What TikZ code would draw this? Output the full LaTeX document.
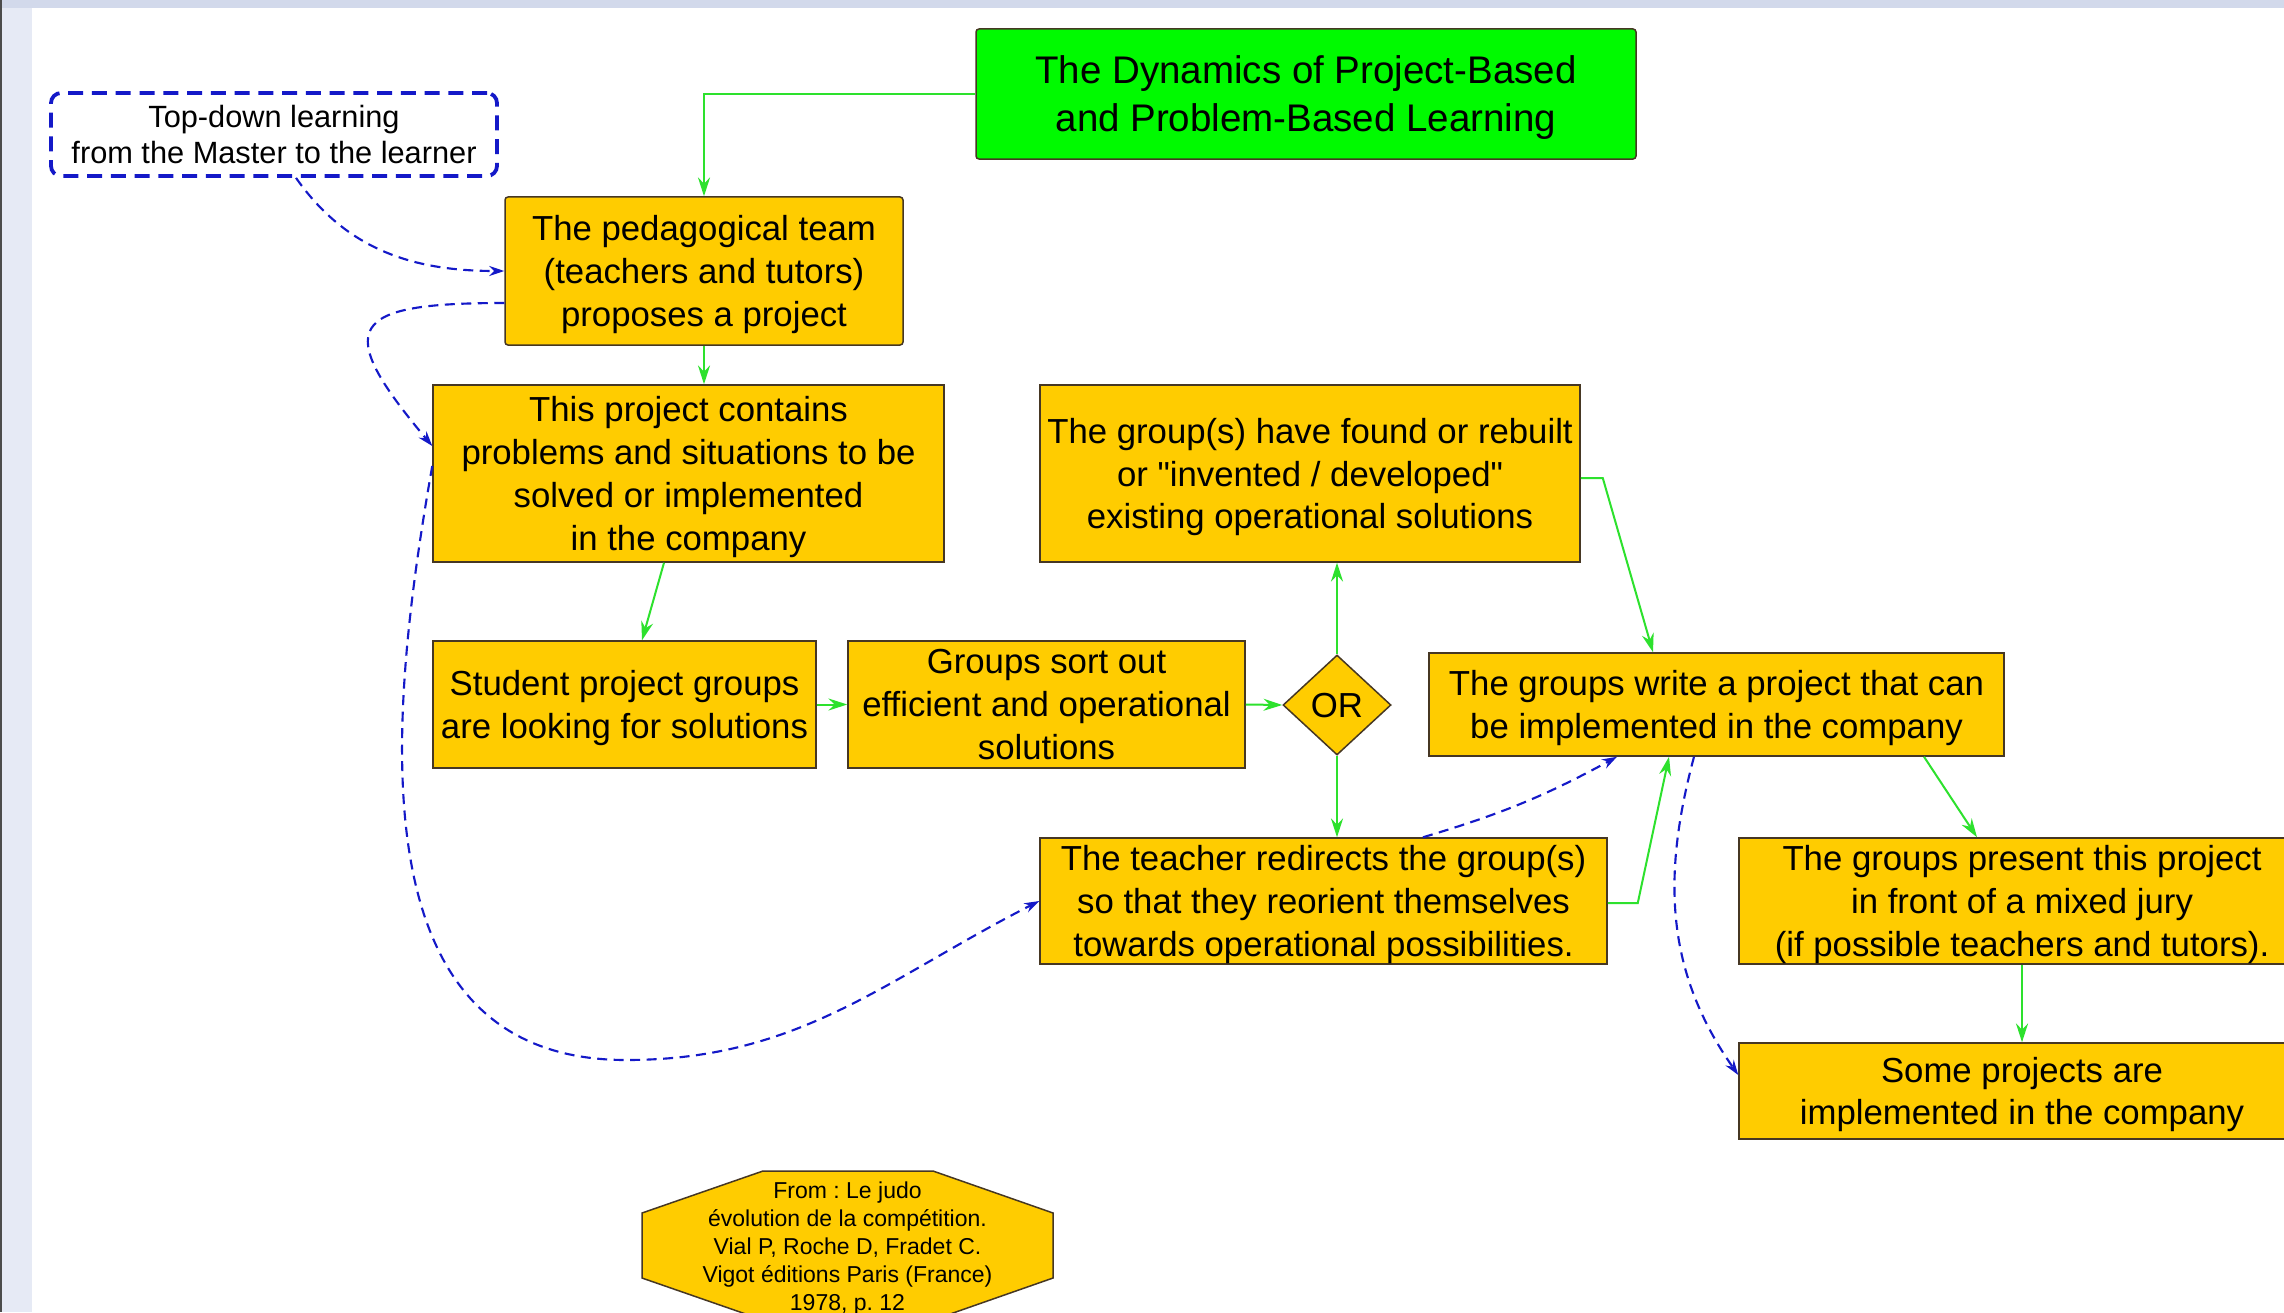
\documentclass[tikz,border=0pt]{standalone}
\usepackage{fontspec}
\setmainfont{Liberation Sans}[Ligatures=TeXOff]
\usepackage{xcolor}
\usetikzlibrary{shapes}
\usetikzlibrary{calc}
\usetikzlibrary{arrows.meta}
\frenchspacing

\definecolor{boxorange}{RGB}{255,204,0}
\definecolor{boxedge}{RGB}{70,55,35}
\definecolor{titlegreen}{RGB}{0,250,0}
\definecolor{linkgreen}{RGB}{45,225,45}
\definecolor{linkblue}{RGB}{20,25,200}
\definecolor{bandtop}{RGB}{210,217,235}
\definecolor{bandleft}{RGB}{230,234,245}

\tikzset{
  box/.style={draw=boxedge, line width=0.6pt, fill=boxorange, align=center, inner sep=1pt,
    text depth=-1.7pt, font=\fontsize{13.9}{17.1}\selectfont},
  titlebox/.style={box, fill=titlegreen, rounded corners=1.2pt, text depth=-2.6pt,
    font=\fontsize{15.4}{19.2}\selectfont},
  notebox/.style={draw=linkblue, line width=1.5pt, dash pattern=on 6pt off 3.5pt, rounded corners=4pt,
    fill=white, align=center, text depth=-1.2pt, font=\fontsize{12.3}{14.6}\selectfont},
  orbox/.style={box, shape=diamond, inner sep=0pt},
  flow/.style={draw=linkgreen, line width=0.8pt, -{Stealth[length=7.5pt,width=4.8pt]}},
  backflow/.style={draw=linkblue, line width=0.85pt, dash pattern=on 4pt off 2.6pt,
    -{Stealth[length=6pt,width=4pt]}},
}

\begin{document}
\begin{tikzpicture}[x=0.4pt, y=-0.4pt]
    \useasboundingbox (0,0) rectangle (2284,1312);
    \clip (0,0) rectangle (2284,1312);
    \fill[white] (0,0) rectangle (2284,1312);
    \fill[bandtop] (0,0) rectangle (2284,8);
    \fill[bandleft] (0,8) rectangle (32,1312);
    \fill[gray!60!black] (0,0) rectangle (2,1312);

    \node[titlebox, minimum width=264pt, minimum height=52pt] (title) at (1306,94)
        {The Dynamics of Project-Based\\and Problem-Based Learning};
    \node[notebox, minimum width=178.4pt, minimum height=33.2pt] (topdown) at (274,134.5)
        {Top-down learning\\from the Master to the learner};
    \node[box, rounded corners=1.2pt, minimum width=159.2pt, minimum height=59.2pt] (team) at (704,271)
        {The pedagogical team\\(teachers and tutors)\\proposes a project};
    \node[box, minimum width=204.4pt, minimum height=70.8pt] (contains) at (688.5,473.5)
        {This project contains\\problems and situations to be\\solved or implemented\\in the company};
    \node[box, minimum width=153.2pt, minimum height=50.8pt] (student) at (624.5,704.5)
        {Student project groups\\are looking for solutions};
    \node[box, minimum width=158.8pt, minimum height=50.8pt] (sortout) at (1046.5,704.5)
        {Groups sort out\\efficient and operational\\solutions};
    \node[orbox, minimum width=43.2pt, minimum height=40pt] (or) at (1337,705) {OR};
    \node[box, minimum width=216pt, minimum height=70.8pt] (found) at (1310,473.5)
        {The group(s) have found or rebuilt\\or "invented / developed"\\existing operational solutions};
    \node[box, minimum width=230pt, minimum height=41.2pt] (write) at (1716.5,704.5)
        {The groups write a project that can\\be implemented in the company};
    \node[box, minimum width=226.8pt, minimum height=50.4pt] (teacher) at (1323.5,901)
        {The teacher redirects the group(s)\\so that they reorient themselves\\towards operational possibilities.};
    \node[box, minimum width=226.4pt, minimum height=50.4pt] (present) at (2022,901)
        {The groups present this project\\in front of a mixed jury\\(if possible teachers and tutors).};
    \node[box, minimum width=226.4pt, minimum height=38.4pt] (some) at (2022,1091)
        {Some projects are\\implemented in the company};

    \draw[draw=boxedge, fill=boxorange, line width=0.6pt] (763,1171) -- (933,1171) -- (1053,1213)
        -- (1053,1278) -- (933,1320) -- (763,1320) -- (642,1278) -- (642,1213) -- cycle;
    \node[align=center, text depth=-0.5pt, font=\fontsize{9.2}{11.2}\selectfont] (source) at (847.5,1246)
        {From : Le judo\\évolution de la compétition.\\Vial P, Roche D, Fradet C.\\Vigot éditions Paris (France)\\1978, p. 12};

    \draw[flow] (title.west) -| (team.north);
    \draw[flow] (team.south) -- (team.south |- contains.north);
    \draw[flow] ($(contains.south)+(-24.5,0)$) -- ($(student.north)+(17.5,0)$);
    \draw[flow] (student.east) -- (sortout.west);
    \draw[flow] (sortout.east) -- (or.west);
    \draw[flow] (or.north) -- (or.north |- found.south);
    \draw[flow] (or.south) -- (or.south |- teacher.north);
    \draw[flow] ($(found.east)+(0,4.5)$) -- +(22,0) -- ($(write.north)+(-63.5,0)$);
    \draw[flow] ($(teacher.east)+(0,2)$) -- +(30,0) -- ($(write.south)+(-47.5,0)$);
    \draw[flow] ($(write.south)+(207.5,0)$) -- ($(present.north)+(-45,0)$);
    \draw[flow] (present.south) -- (some.north);

    \draw[backflow] ($(topdown.south)+(22,0)$) to[out=-55,in=180] (team.west);
    \draw[backflow] ($(team.west)+(0,32)$) to[out=180,in=130,looseness=2.5] ($(contains.west)+(0,-27.5)$);
    \coordinate (loopbottom) at (626,1060);
    \draw[backflow] ($(contains.west)+(0,-7.5)$) to[out=-100,in=180,looseness=1.1] (loopbottom)
        to[out=0,in=-153] (teacher.west);
    \draw[backflow] ($(teacher.north)+(99.5,0)$) to[bend right=6] ($(write.south)+(-99.5,0)$);
    \draw[backflow] ($(write.south)+(-22.5,0)$) to[out=-105,in=125] ($(some.west)+(0,-16)$);
\end{tikzpicture}
\end{document}
